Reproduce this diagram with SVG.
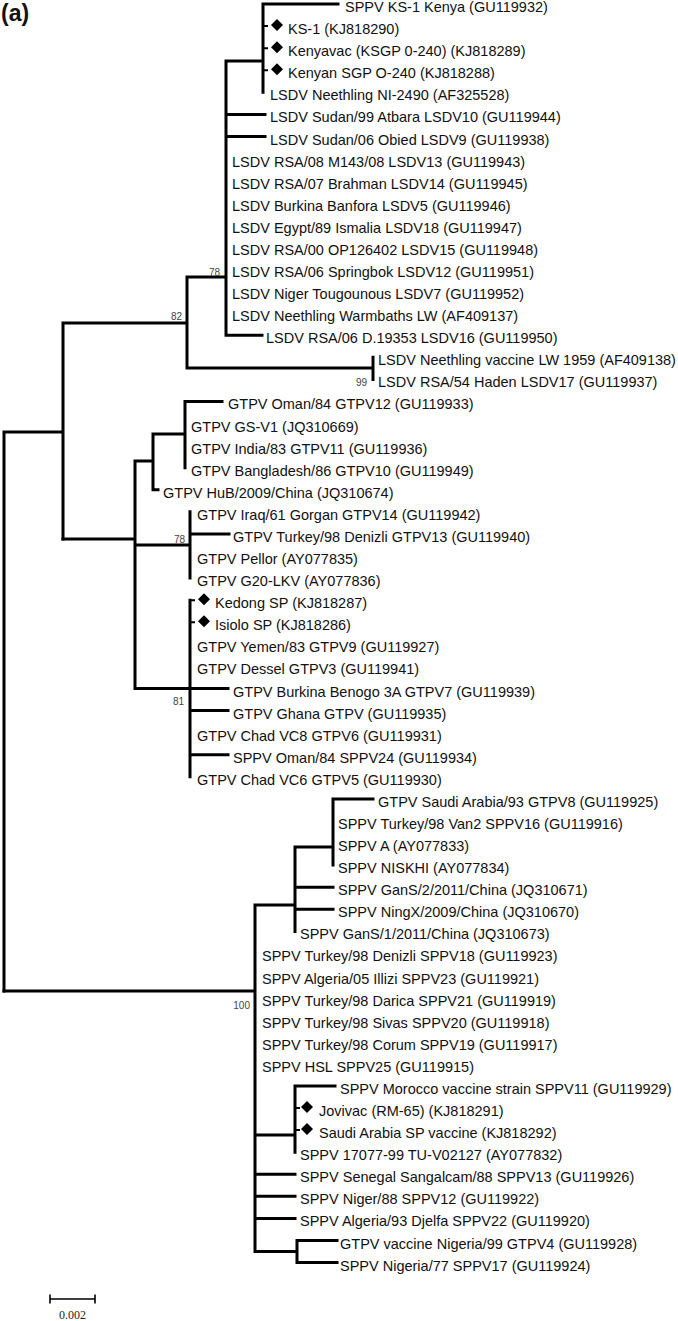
<svg xmlns="http://www.w3.org/2000/svg" width="678" height="1321" viewBox="0 0 678 1321">
<style>
.t{font-family:"Liberation Sans",Arial,sans-serif;font-size:14.5px;fill:#111}
.b{font-family:"Liberation Sans",Arial,sans-serif;font-size:10px;fill:#444;text-anchor:end}
.br{fill:none;stroke:#000;stroke-width:3;stroke-linecap:square}
.tk{fill:none;stroke:#000;stroke-width:2}
.sc{fill:none;stroke:#000;stroke-width:1.6}
</style>
<defs>
<path id="dm" d="M0,-6 L6,0 L0,6 L-6,0 Z" fill="#000"/>
</defs>
<rect width="678" height="1321" fill="#fff"/>
<text x="1" y="21" font-family="Liberation Sans,Arial,sans-serif" font-size="23" font-weight="bold" fill="#111">(a)</text>
<g id="connectors">
<path class="br" d="M4,432 V991 M4,432 H63 M63,323 V539 M63,323 H187 M187,277 V368 M187,277 H226 M226,61 V335.2 M226,61 H263 M263,4 V92.3 M263,4 H338 M226,114.4 H265 M226,136.5 H265 M226,335.2 H262 M187,368 H373 M373,357.3 V379.4"/>
<path class="br" d="M63,539 H135 M135,461 V688.5 M135,461 H153 M153,434 V489.8 M153,489.8 H158 M153,434 H185 M185,401.4 V467.7 M185,401.4 H222 M135,545 H190 M190,511.8 V578.1 M190,533.9 H229 M135,688.5 H190 M190,600.2 V776.8 M190,688.5 H228 M190,710.6 H228 M190,754.7 H228"/>
<path class="br" d="M4,991 H255 M255,905 V1251.5 M255,905 H295 M295,847 V931.4 M295,847 H333 M333,798.9 V865.1 M333,798.9 H373 M295,887.2 H333 M295,909.3 H333 M255,1135 H295 M295,1085.9 V1152.2 M295,1085.9 H335 M255,1174.2 H295 M255,1196.3 H295 M255,1218.4 H295 M255,1251.5 H297 M297,1240.5 V1262.6 M297,1240.5 H337 M297,1262.6 H337"/>
<path class="tk" d="M263,26.1 H268 M263,48.2 H268 M263,70.2 H268 M190,600.2 H195 M190,622.2 H195 M295,1108 H300 M295,1130.1 H300"/>
</g>
<g id="bootstrap">
<text class="b" x="220" y="276">78</text>
<text class="b" x="182" y="320">82</text>
<text class="b" x="367" y="386">99</text>
<text class="b" x="185" y="542.5">78</text>
<text class="b" x="184" y="705">81</text>
<text class="b" x="250" y="1008.5">100</text>
</g>
<g id="leaf1"><text class="t" x="345" y="12">SPPV KS-1 Kenya (GU119932)</text></g>
<g id="leaf2"><use href="#dm" x="277" y="25.1"/><text class="t" x="288" y="34.1">KS-1 (KJ818290)</text></g>
<g id="leaf3"><use href="#dm" x="277" y="47.2"/><text class="t" x="288" y="56.2">Kenyavac (KSGP 0-240) (KJ818289)</text></g>
<g id="leaf4"><use href="#dm" x="277" y="69.2"/><text class="t" x="288" y="78.2">Kenyan SGP O-240 (KJ818288)</text></g>
<g id="leaf5"><text class="t" x="270" y="100.3">LSDV Neethling NI-2490 (AF325528)</text></g>
<g id="leaf6"><text class="t" x="270" y="122.4">LSDV Sudan/99 Atbara LSDV10 (GU119944)</text></g>
<g id="leaf7"><text class="t" x="270" y="144.5">LSDV Sudan/06 Obied LSDV9 (GU119938)</text></g>
<g id="leaf8"><text class="t" x="232" y="166.6">LSDV RSA/08 M143/08 LSDV13 (GU119943)</text></g>
<g id="leaf9"><text class="t" x="232" y="188.6">LSDV RSA/07 Brahman LSDV14 (GU119945)</text></g>
<g id="leaf10"><text class="t" x="232" y="210.7">LSDV Burkina Banfora LSDV5 (GU119946)</text></g>
<g id="leaf11"><text class="t" x="232" y="232.8">LSDV Egypt/89 Ismalia LSDV18 (GU119947)</text></g>
<g id="leaf12"><text class="t" x="232" y="254.9">LSDV RSA/00 OP126402 LSDV15 (GU119948)</text></g>
<g id="leaf13"><text class="t" x="232" y="277">LSDV RSA/06 Springbok LSDV12 (GU119951)</text></g>
<g id="leaf14"><text class="t" x="232" y="299">LSDV Niger Tougounous LSDV7 (GU119952)</text></g>
<g id="leaf15"><text class="t" x="232" y="321.1">LSDV Neethling Warmbaths LW (AF409137)</text></g>
<g id="leaf16"><text class="t" x="266" y="343.2">LSDV RSA/06 D.19353 LSDV16 (GU119950)</text></g>
<g id="leaf17"><text class="t" x="378" y="365.3">LSDV Neethling vaccine LW 1959 (AF409138)</text></g>
<g id="leaf18"><text class="t" x="378" y="387.4">LSDV RSA/54 Haden LSDV17 (GU119937)</text></g>
<g id="leaf19"><text class="t" x="228" y="409.4">GTPV Oman/84 GTPV12 (GU119933)</text></g>
<g id="leaf20"><text class="t" x="191" y="431.5">GTPV GS-V1 (JQ310669)</text></g>
<g id="leaf21"><text class="t" x="191" y="453.6">GTPV India/83 GTPV11 (GU119936)</text></g>
<g id="leaf22"><text class="t" x="191" y="475.7">GTPV Bangladesh/86 GTPV10 (GU119949)</text></g>
<g id="leaf23"><text class="t" x="163" y="497.8">GTPV HuB/2009/China (JQ310674)</text></g>
<g id="leaf24"><text class="t" x="197" y="519.8">GTPV Iraq/61 Gorgan GTPV14 (GU119942)</text></g>
<g id="leaf25"><text class="t" x="233" y="541.9">GTPV Turkey/98 Denizli GTPV13 (GU119940)</text></g>
<g id="leaf26"><text class="t" x="197" y="564">GTPV Pellor (AY077835)</text></g>
<g id="leaf27"><text class="t" x="197" y="586.1">GTPV G20-LKV (AY077836)</text></g>
<g id="leaf28"><use href="#dm" x="204" y="599.2"/><text class="t" x="215" y="608.2">Kedong SP (KJ818287)</text></g>
<g id="leaf29"><use href="#dm" x="204" y="621.2"/><text class="t" x="215" y="630.2">Isiolo SP (KJ818286)</text></g>
<g id="leaf30"><text class="t" x="197" y="652.3">GTPV Yemen/83 GTPV9 (GU119927)</text></g>
<g id="leaf31"><text class="t" x="197" y="674.4">GTPV Dessel GTPV3 (GU119941)</text></g>
<g id="leaf32"><text class="t" x="233" y="696.5">GTPV Burkina Benogo 3A GTPV7 (GU119939)</text></g>
<g id="leaf33"><text class="t" x="233" y="718.6">GTPV Ghana GTPV (GU119935)</text></g>
<g id="leaf34"><text class="t" x="197" y="740.6">GTPV Chad VC8 GTPV6 (GU119931)</text></g>
<g id="leaf35"><text class="t" x="233" y="762.7">SPPV Oman/84 SPPV24 (GU119934)</text></g>
<g id="leaf36"><text class="t" x="197" y="784.8">GTPV Chad VC6 GTPV5 (GU119930)</text></g>
<g id="leaf37"><text class="t" x="378" y="806.9">GTPV Saudi Arabia/93 GTPV8 (GU119925)</text></g>
<g id="leaf38"><text class="t" x="338" y="829">SPPV Turkey/98 Van2 SPPV16 (GU119916)</text></g>
<g id="leaf39"><text class="t" x="338" y="851">SPPV A (AY077833)</text></g>
<g id="leaf40"><text class="t" x="338" y="873.1">SPPV NISKHI (AY077834)</text></g>
<g id="leaf41"><text class="t" x="338" y="895.2">SPPV GanS/2/2011/China (JQ310671)</text></g>
<g id="leaf42"><text class="t" x="338" y="917.3">SPPV NingX/2009/China (JQ310670)</text></g>
<g id="leaf43"><text class="t" x="300" y="939.4">SPPV GanS/1/2011/China (JQ310673)</text></g>
<g id="leaf44"><text class="t" x="262" y="961.4">SPPV Turkey/98 Denizli SPPV18 (GU119923)</text></g>
<g id="leaf45"><text class="t" x="262" y="983.5">SPPV Algeria/05 Illizi SPPV23 (GU119921)</text></g>
<g id="leaf46"><text class="t" x="262" y="1005.6">SPPV Turkey/98 Darica SPPV21 (GU119919)</text></g>
<g id="leaf47"><text class="t" x="262" y="1027.7">SPPV Turkey/98 Sivas SPPV20 (GU119918)</text></g>
<g id="leaf48"><text class="t" x="262" y="1049.8">SPPV Turkey/98 Corum SPPV19 (GU119917)</text></g>
<g id="leaf49"><text class="t" x="262" y="1071.8">SPPV HSL SPPV25 (GU119915)</text></g>
<g id="leaf50"><text class="t" x="340" y="1093.9">SPPV Morocco vaccine strain SPPV11 (GU119929)</text></g>
<g id="leaf51"><use href="#dm" x="307" y="1107"/><text class="t" x="319" y="1116">Jovivac (RM-65) (KJ818291)</text></g>
<g id="leaf52"><use href="#dm" x="307" y="1129.1"/><text class="t" x="319" y="1138.1">Saudi Arabia SP vaccine (KJ818292)</text></g>
<g id="leaf53"><text class="t" x="300" y="1160.2">SPPV 17077-99 TU-V02127 (AY077832)</text></g>
<g id="leaf54"><text class="t" x="300" y="1182.2">SPPV Senegal Sangalcam/88 SPPV13 (GU119926)</text></g>
<g id="leaf55"><text class="t" x="300" y="1204.3">SPPV Niger/88 SPPV12 (GU119922)</text></g>
<g id="leaf56"><text class="t" x="300" y="1226.4">SPPV Algeria/93 Djelfa SPPV22 (GU119920)</text></g>
<g id="leaf57"><text class="t" x="340" y="1248.5">GTPV vaccine Nigeria/99 GTPV4 (GU119928)</text></g>
<g id="leaf58"><text class="t" x="340" y="1270.6">SPPV Nigeria/77 SPPV17 (GU119924)</text></g>
<g id="scalebar">
<path class="sc" d="M50,1299 H95 M50,1294.5 V1303.5 M95,1294.5 V1303.5"/>
<text x="72.5" y="1319" font-family="Liberation Serif,Times New Roman,serif" font-size="12" fill="#222" text-anchor="middle">0.002</text>
</g>
</svg>
